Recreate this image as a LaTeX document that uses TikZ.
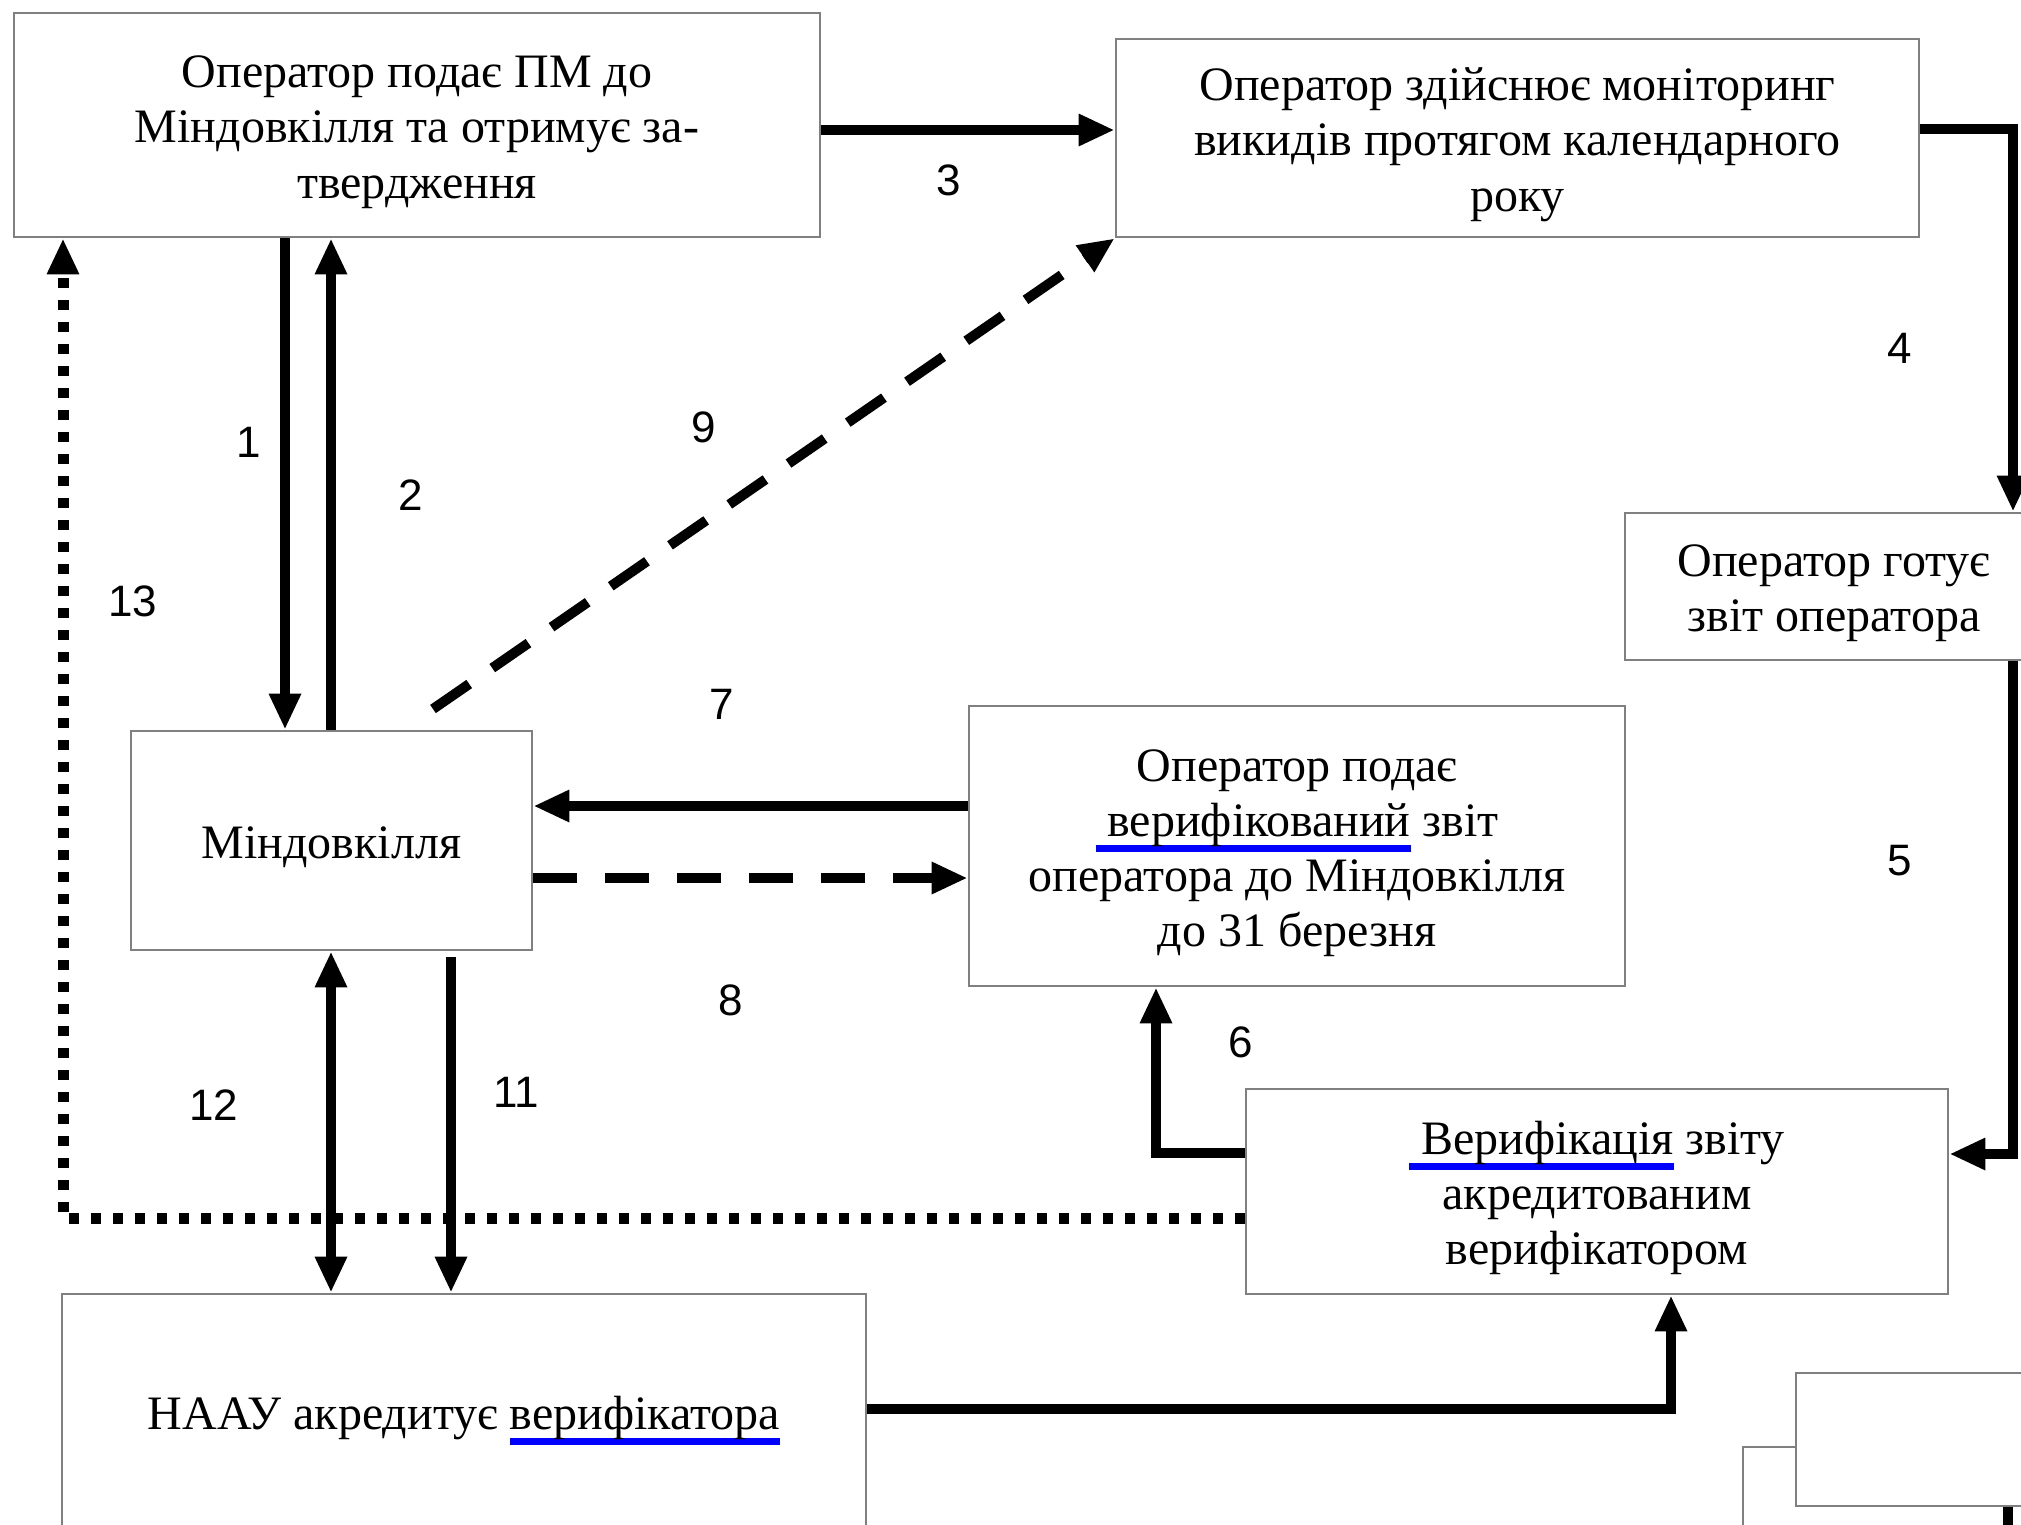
\documentclass[tikz,border=0pt]{standalone}
\usepackage{fontspec}
\setmainfont{Liberation Serif}
\newfontfamily\numfont{Liberation Sans}
\usetikzlibrary{arrows.meta}
\definecolor{boxgray}{RGB}{128,128,128}
\newcommand{\spellmark}[1]{\leavevmode\setbox0\hbox{#1}\rlap{\color{blue}\rule[-8pt]{\wd0}{3.5pt}}\box0\relax}
\newcommand{\tstrut}{\rule{0pt}{23pt}}
\tikzset{
  blk/.style={draw=boxgray, line width=1.4pt, fill=white, align=center, inner sep=0pt,
    font=\fontsize{24}{27.6}\selectfont},
  num/.style={font=\numfont\fontsize{22}{26}\selectfont},
  flow/.style={line width=5pt},
  dashflow/.style={line width=5pt, dash pattern=on 22pt off 14pt},
  dotflow/.style={line width=5.5pt, dash pattern=on 5pt off 6pt},
  >={Triangle[length=18pt,width=15pt]}
}
\begin{document}
\begin{tikzpicture}[x=0.5pt,y=-0.5pt]
    \useasboundingbox (0,0) rectangle (2021,1524);
    \clip (0,0) rectangle (2021,1524);

    \node[blk, minimum width=403pt, minimum height=112pt] (A) at (417,125)
      {\tstrut Оператор подає ПМ до\\Міндовкілля та отримує за-\\твердження};
    \node[blk, minimum width=401.5pt, minimum height=99pt] (B) at (1517.5,138)
      {\tstrut Оператор здійснює моніторинг\\викидів протягом календарного\\року};
    \node[blk, minimum width=209pt, minimum height=73.5pt] (C) at (1834,586.5)
      {\tstrut Оператор готує\\звіт оператора};
    \node[blk, minimum width=200.5pt, minimum height=109.5pt] (D) at (331.5,840.5)
      {\tstrut Міндовкілля};
    \node[blk, minimum width=328pt, minimum height=140pt] (E) at (1297,846)
      {\tstrut Оператор подає\\\spellmark{\ верифікований} звіт\\оператора до Міндовкілля\\до 31 березня};
    \node[blk, minimum width=351pt, minimum height=102.5pt] (F) at (1597,1191.5)
      {\tstrut\spellmark{\ Верифікація} звіту\\акредитованим\\верифікатором};
    \node[blk, minimum width=402pt, minimum height=120pt] (G) at (464,1414)
      {\tstrut НААУ акредитує \spellmark{верифікатора}};
    \node[blk, minimum width=160pt, minimum height=90pt] (H2) at (1903,1537) {};
    \node[blk, minimum width=152pt, minimum height=66.5pt] (H) at (1948,1439.5) {};

    \coordinate (x1) at (285,0);
    \coordinate (x2) at (331,0);
    \coordinate (x11) at (451,0);
    \coordinate (rc) at (2013,0);
    \coordinate (s9) at (433,709);
    \coordinate (y7) at (0,806);
    \coordinate (y8) at (0,878);
    \coordinate (c6) at (1156,1153);
    \coordinate (c13) at (63,1218);
    \coordinate (cg) at (1671,1409);
    \coordinate (hx) at (2008,0);
    \coordinate (hend) at (2008,1540);

    \draw[flow] (A.south -| x1) edge[->] (D.north -| x1);
    \draw[flow] (D.north -| x2) edge[->] (A.south -| x2);
    \draw[flow] ([yshift=-2.5pt]A.east) edge[->] ([yshift=-2.5pt]A.east -| B.west);
    \draw[flow,->] ([yshift=4.5pt]B.east) -| (C.north -| rc);
    \draw[flow,->] (C.south -| rc) |- ([yshift=18.75pt]F.east);
    \draw[flow,->] (F.west |- c6) -| (E.south -| c6);
    \draw[flow] (E.west |- y7) edge[->] (D.east |- y7);
    \draw[dashflow] (D.east |- y8) edge[->] (E.west |- y8);
    \draw[dashflow] (s9) edge[->] (B.south west);
    \draw[flow] ([yshift=-3pt]D.south -| x11) edge[->] (G.north -| x11);
    \draw[flow] (D.south -| x2) edge[<->] (G.north -| x2);
    \draw[dotflow,->] (F.west |- c13) -| (A.south -| c13);
    \draw[flow,->] (G.east |- cg) -| (F.south -| cg);
    \draw[flow] (H.south -| hx) -- (hend);

    \node[num] (l1) at (249,442) {1};
    \node[num] (l2) at (411,495) {2};
    \node[num] (l3) at (949,180) {3};
    \node[num] (l4) at (1900,348) {4};
    \node[num] (l5) at (1900,861) {5};
    \node[num] (l6) at (1241,1042) {6};
    \node[num] (l7) at (722,704) {7};
    \node[num] (l8) at (731,1000) {8};
    \node[num] (l9) at (704,427) {9};
    \node[num] (l11) at (516,1092) {11};
    \node[num] (l12) at (214,1105) {12};
    \node[num] (l13) at (133,601) {13};
  \end{tikzpicture}
\end{document}
